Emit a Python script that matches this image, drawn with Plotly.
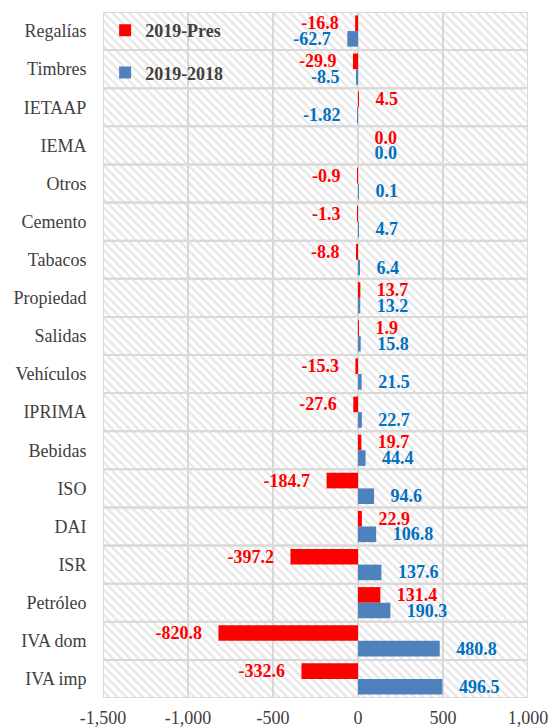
import plotly.graph_objects as go

# datos (millones), de arriba hacia abajo
categorias = ["Regalías", "Timbres", "IETAAP", "IEMA", "Otros", "Cemento", "Tabacos",
              "Propiedad", "Salidas", "Vehículos", "IPRIMA", "Bebidas", "ISO", "DAI",
              "ISR", "Petróleo", "IVA dom", "IVA imp"]
pres_2019 = [-16.8, -29.9, 4.5, 0.0, -0.9, -1.3, -8.8, 13.7, 1.9, -15.3, -27.6, 19.7,
             -184.7, 22.9, -397.2, 131.4, -820.8, -332.6]
dif_2018 = [-62.7, -8.5, -1.82, 0.0, 0.1, 4.7, 6.4, 13.2, 15.8, 21.5, 22.7, 44.4,
            94.6, 106.8, 137.6, 190.3, 480.8, 496.5]
x_ticks = [-1500, -1000, -500, 0, 500, 1000]
x_ticktext = ["-1,500", "-1,000", "-500", "0", "500", "1,000"]

FUENTE = "Liberation Serif, Times New Roman, serif"
ROJO = "#FF0000"
AZUL_BARRA = "#4F81BD"
AZUL_TEXTO = "#0070C0"
GRIS = "#D9D9D9"
pad = "\u00a0\u00a0\u00a0"


def etiquetas(vals):
    return [(str(v) + pad) if v < 0 else (pad + str(v)) for v in vals]


n = len(categorias)
x_min, x_max = x_ticks[0], x_ticks[-1]

fig = go.Figure()

# fondo rayado por categoria
fig.add_trace(go.Bar(
    y=categorias, x=[x_max - x_min] * n, base=x_min, orientation="h", width=1,
    marker=dict(color="rgba(0,0,0,0)",
                pattern=dict(shape="\\", fgcolor="#CFCFCF", size=6, solidity=0.4),
                line=dict(color=GRIS, width=2)),
    showlegend=False, hoverinfo="skip", yaxis="y"))

fig.add_trace(go.Bar(
    y=categorias, x=pres_2019, orientation="h", name="2019-Pres",
    marker=dict(color=ROJO, line=dict(width=0)), legendgroup="a",
    text=etiquetas(pres_2019), textposition="outside", textangle=0,
    constraintext="none", cliponaxis=False,
    textfont=dict(family=FUENTE, size=18, color=ROJO, weight="bold"),
    yaxis="y2"))

fig.add_trace(go.Bar(
    y=categorias, x=dif_2018, orientation="h", name="2019-2018",
    marker=dict(color=AZUL_BARRA, line=dict(width=0)), legendgroup="b",
    text=etiquetas(dif_2018), textposition="outside", textangle=0,
    constraintext="none", cliponaxis=False,
    textfont=dict(family=FUENTE, size=18, color=AZUL_TEXTO, weight="bold"),
    yaxis="y2"))

rango_y = [n - 0.5, -0.5]

fig.update_layout(
    width=549, height=728,
    margin=dict(l=103, r=21, t=12, b=30, autoexpand=False),
    paper_bgcolor="white", plot_bgcolor="white",
    barmode="group", bargap=0.18, bargroupgap=0,
    font=dict(family=FUENTE, size=18, color="#404040"),
    xaxis=dict(range=[x_min, x_max], tickvals=x_ticks, ticktext=x_ticktext,
               showgrid=True, gridcolor=GRIS, gridwidth=2, zeroline=False,
               showline=False, ticks="outside", ticklen=3, tickcolor="rgba(0,0,0,0)",
               tickfont=dict(family=FUENTE, size=18, color="#404040")),
    yaxis=dict(categoryorder="array", categoryarray=categorias, range=rango_y,
               showgrid=False, zeroline=False, ticks="outside", ticklen=12,
               tickcolor="rgba(0,0,0,0)",
               tickfont=dict(family=FUENTE, size=18, color="#404040")),
    yaxis2=dict(categoryorder="array", categoryarray=categorias, range=rango_y,
                overlaying="y", showticklabels=False, showgrid=False, zeroline=False),
    legend=dict(x=0.005, y=1.0, xanchor="left", yanchor="top", bgcolor="rgba(0,0,0,0)",
                font=dict(family=FUENTE, size=18, color="#404040", weight="bold"),
                tracegroupgap=16),
)

# quitar el margen por defecto del body para que la figura ocupe la ventana
fig.write_html("out.html", config={"displayModeBar": False},
               post_script="document.body.style.margin='0';")
